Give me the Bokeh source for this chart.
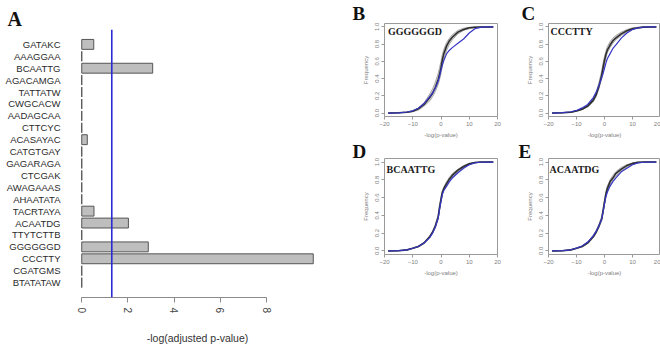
from bokeh.plotting import figure
from bokeh.models import Range1d, FactorRange, FixedTicker, Span, Label, Title
from bokeh.layouts import row, column
from bokeh.embed import file_html
from bokeh.resources import INLINE

# ---------------- Panel A data ----------------
motifs = ["GATAKC", "AAAGGAA", "BCAATTG", "AGACAMGA", "TATTATW", "CWGCACW",
          "AADAGCAA", "CTTCYC", "ACASAYAC", "CATGTGAY", "GAGARAGA", "CTCGAK",
          "AWAGAAAS", "AHAATATA", "TACRTAYA", "ACAATDG", "TTYTCTTB", "GGGGGGD",
          "CCCTTY", "CGATGMS", "BTATATAW"]
scores = [0.52, 0.0, 3.07, 0.0, 0.0, 0.0, 0.0, 0.0, 0.24, 0.0, 0.0, 0.0,
          0.0, 0.0, 0.53, 2.02, 0.0, 2.88, 10.02, 0.0, 0.0]
threshold = 1.30
a_ticks = [0, 2, 4, 6, 8]

# ---------------- Panels B-E data ----------------
cdf_x = [-18.7, -15, -12, -10, -8, -6, -4, -3, -2, -1, -0.5, 0, 0.5, 1, 2, 3, 4,
         6, 8, 10, 12, 14, 16, 18.5]

b_mid = [0, 0.003, 0.01, 0.02, 0.05, 0.10, 0.18, 0.23, 0.30, 0.39, 0.45, 0.53, 0.62, 0.69, 0.78, 0.84, 0.88, 0.94, 0.97, 0.99, 0.997, 1, 1, 1]
b_hi = [0, 0.004, 0.013, 0.028, 0.06, 0.12, 0.22, 0.28, 0.36, 0.46, 0.53, 0.60, 0.68, 0.74, 0.82, 0.87, 0.91, 0.96, 0.985, 0.995, 1, 1, 1, 1]
b_lo = [0, 0.002, 0.007, 0.015, 0.035, 0.08, 0.14, 0.19, 0.25, 0.33, 0.39, 0.46, 0.55, 0.63, 0.73, 0.80, 0.85, 0.92, 0.96, 0.98, 0.99, 0.998, 1, 1]
b_blue = [0, 0.003, 0.012, 0.026, 0.055, 0.11, 0.19, 0.23, 0.29, 0.37, 0.43, 0.50, 0.56, 0.61, 0.69, 0.73, 0.76, 0.81, 0.86, 0.93, 0.98, 0.995, 1, 1]

c_mid = [0, 0.003, 0.01, 0.025, 0.045, 0.08, 0.15, 0.21, 0.31, 0.44, 0.53, 0.61, 0.68, 0.73, 0.79, 0.84, 0.87, 0.92, 0.955, 0.98, 0.99, 0.998, 1, 1]
c_hi = [0, 0.004, 0.012, 0.03, 0.05, 0.09, 0.17, 0.24, 0.35, 0.49, 0.58, 0.66, 0.72, 0.77, 0.83, 0.87, 0.90, 0.94, 0.97, 0.99, 0.997, 1, 1, 1]
c_lo = [0, 0.002, 0.008, 0.02, 0.04, 0.07, 0.13, 0.19, 0.28, 0.40, 0.49, 0.57, 0.64, 0.70, 0.76, 0.81, 0.85, 0.90, 0.94, 0.97, 0.985, 0.995, 1, 1]
c_blue = [0, 0.004, 0.015, 0.03, 0.06, 0.10, 0.18, 0.24, 0.32, 0.41, 0.46, 0.52, 0.58, 0.63, 0.69, 0.75, 0.79, 0.87, 0.93, 0.97, 0.99, 0.998, 1, 1]

d_mid = [0, 0.003, 0.012, 0.03, 0.05, 0.09, 0.16, 0.21, 0.28, 0.38, 0.49, 0.58, 0.66, 0.70, 0.76, 0.81, 0.85, 0.91, 0.95, 0.98, 0.995, 1, 1, 1]
d_hi = [0, 0.004, 0.014, 0.033, 0.055, 0.10, 0.17, 0.22, 0.30, 0.41, 0.52, 0.61, 0.68, 0.72, 0.78, 0.83, 0.87, 0.92, 0.96, 0.985, 0.997, 1, 1, 1]
d_lo = [0, 0.002, 0.01, 0.027, 0.045, 0.08, 0.15, 0.20, 0.26, 0.36, 0.46, 0.55, 0.63, 0.68, 0.74, 0.79, 0.83, 0.89, 0.94, 0.97, 0.99, 0.998, 1, 1]
d_blue = [0, 0.003, 0.012, 0.03, 0.05, 0.09, 0.15, 0.20, 0.27, 0.37, 0.47, 0.56, 0.64, 0.68, 0.73, 0.78, 0.82, 0.88, 0.93, 0.97, 0.99, 0.998, 1, 1]

e_mid = [0, 0.003, 0.012, 0.03, 0.05, 0.09, 0.16, 0.21, 0.28, 0.36, 0.45, 0.55, 0.64, 0.70, 0.78, 0.82, 0.87, 0.92, 0.96, 0.985, 0.998, 1, 1, 1]
e_hi = [0, 0.004, 0.014, 0.034, 0.056, 0.10, 0.18, 0.23, 0.30, 0.39, 0.48, 0.58, 0.67, 0.73, 0.80, 0.85, 0.89, 0.94, 0.97, 0.99, 1, 1, 1, 1]
e_lo = [0, 0.002, 0.01, 0.026, 0.045, 0.08, 0.15, 0.20, 0.26, 0.34, 0.43, 0.52, 0.61, 0.67, 0.75, 0.80, 0.84, 0.90, 0.94, 0.975, 0.99, 0.998, 1, 1]
e_blue = [0, 0.004, 0.013, 0.032, 0.055, 0.10, 0.17, 0.22, 0.28, 0.36, 0.44, 0.53, 0.61, 0.66, 0.73, 0.78, 0.82, 0.89, 0.93, 0.97, 0.99, 0.998, 1, 1]

cdf_xticks = [-20, -10, 0, 10, 20]
cdf_yticks = [0.0, 0.2, 0.4, 0.6, 0.8, 1.0]

SANS = "Liberation Sans"
SERIF = "Liberation Serif"


def panel_title(letter, offset, size, standoff=0):
    return Title(text=letter, align="left", offset=offset, standoff=standoff,
                 text_font=SERIF, text_font_style="bold", text_font_size=size,
                 text_color="#111111")


# ---------------- Panel A ----------------
pA = figure(width=340, height=347,
            y_range=FactorRange(factors=list(reversed(motifs)), range_padding=0.75,
                                range_padding_units="absolute"),
            x_range=Range1d(-0.4, 10.42),
            output_backend="svg", toolbar_location=None,
            min_border_left=72, min_border_right=18, min_border_top=29, min_border_bottom=48)
pA.title = panel_title("A", -65, "20px")
pA.hbar(y=motifs, left=0, right=scores, height=0.83,
        fill_color="#bebebe", line_color="#555555", line_width=1)
pA.add_layout(Span(location=threshold, dimension="height", line_color="#2b2bd6", line_width=1.6))
pA.outline_line_color = None
pA.grid.visible = False

xa = pA.xaxis[0]
xa.ticker = FixedTicker(ticks=a_ticks)
xa.bounds = (0, 8)
xa.major_label_orientation = "vertical"
xa.axis_line_color = "#8a8a8a"
xa.major_tick_line_color = "#8a8a8a"
xa.major_tick_out = 5
xa.major_tick_in = 0
xa.minor_tick_line_color = None
xa.major_label_standoff = 5
xa.major_label_text_font = SANS
xa.major_label_text_font_size = "10px"
xa.major_label_text_color = "#444444"
xa.axis_label = "-log(adjusted p-value)"
xa.axis_label_text_font = SANS
xa.axis_label_text_font_size = "10.5px"
xa.axis_label_text_font_style = "normal"
xa.axis_label_text_color = "#333333"
xa.axis_label_standoff = 16

ya = pA.yaxis[0]
ya.axis_line_color = None
ya.major_tick_line_color = None
ya.minor_tick_line_color = None
ya.major_label_standoff = 6
ya.major_label_text_font = SANS
ya.major_label_text_font_size = "9.5px"
ya.major_label_text_color = "#2a2a2a"


def cdf_panel(letter, motif, lo, mid, hi, blue, width, height, left, right, top,
              letter_dx, name_dx, title_standoff):
    bottom = height - top - 96
    p = figure(width=width, height=height,
               x_range=Range1d(-20, 20), y_range=Range1d(-0.04, 1.04),
               output_backend="svg", toolbar_location=None,
               min_border_left=left, min_border_right=right,
               min_border_top=top, min_border_bottom=bottom)
    p.title = panel_title(letter, letter_dx, "19px", title_standoff)
    p.grid.visible = False
    p.outline_line_color = "#9a9a9a"
    p.outline_line_width = 1
    p.varea(x=cdf_x, y1=lo, y2=hi, fill_color="#bdbdbd", fill_alpha=0.6)
    p.line(cdf_x, lo, line_color="#a8a8a8", line_width=1)
    p.line(cdf_x, hi, line_color="#a8a8a8", line_width=1)
    p.line(cdf_x, mid, line_color="#2e2e2e", line_width=1.6)
    p.line(cdf_x, blue, line_color="#3535c4", line_width=1.2)

    xa = p.xaxis[0]
    xa.ticker = FixedTicker(ticks=cdf_xticks)
    xa.axis_line_color = None
    xa.major_tick_line_color = "#9a9a9a"
    xa.major_tick_out = 3
    xa.major_tick_in = 0
    xa.minor_tick_line_color = None
    xa.major_label_standoff = 2
    xa.major_label_text_font = SANS
    xa.major_label_text_font_size = "6px"
    xa.major_label_text_color = "#808080"
    xa.axis_label = "-log(p-value)"
    xa.axis_label_text_font = SANS
    xa.axis_label_text_font_size = "6px"
    xa.axis_label_text_font_style = "normal"
    xa.axis_label_text_color = "#808080"
    xa.axis_label_standoff = 3

    ya = p.yaxis[0]
    ya.ticker = FixedTicker(ticks=cdf_yticks)
    ya.major_label_overrides = {0.0: "0.0", 0.2: "0.2", 0.4: "0.4", 0.6: "0.6", 0.8: "0.8", 1.0: "1.0"}
    ya.axis_line_color = None
    ya.major_tick_line_color = "#9a9a9a"
    ya.major_tick_out = 3
    ya.major_tick_in = 0
    ya.minor_tick_line_color = None
    ya.major_label_orientation = "vertical"
    ya.major_label_standoff = 2
    ya.major_label_text_font = SANS
    ya.major_label_text_font_size = "6px"
    ya.major_label_text_color = "#808080"
    ya.axis_label = "Frequency"
    ya.axis_label_text_font = SANS
    ya.axis_label_text_font_size = "6px"
    ya.axis_label_text_font_style = "normal"
    ya.axis_label_text_color = "#808080"
    ya.axis_label_standoff = 4

    p.add_layout(Label(x=name_dx, y=85, x_units="screen", y_units="screen",
                       text=motif, text_font=SERIF, text_font_style="bold",
                       text_font_size="10px", text_color="#1a1a1a",
                       text_baseline="alphabetic"))
    return p


pB = cdf_panel("B", "GGGGGGD", b_lo, b_mid, b_hi, b_blue, 165, 140, 44, 8, 23, -32, 3.5, 0)
pC = cdf_panel("C", "CCCTTY", c_lo, c_mid, c_hi, c_blue, 155, 140, 43, 0, 23, -27, 2, 0)
pD = cdf_panel("D", "BCAATTG", d_lo, d_mid, d_hi, d_blue, 165, 207, 44, 8, 18, -32, 2, -6)
pE = cdf_panel("E", "ACAATDG", e_lo, e_mid, e_hi, e_blue, 155, 207, 43, 0, 18, -30, 1, -6)

layout = row(pA, column(row(pB, pC), row(pD, pE)))
open("out.html", "w").write(file_html(layout, INLINE))
